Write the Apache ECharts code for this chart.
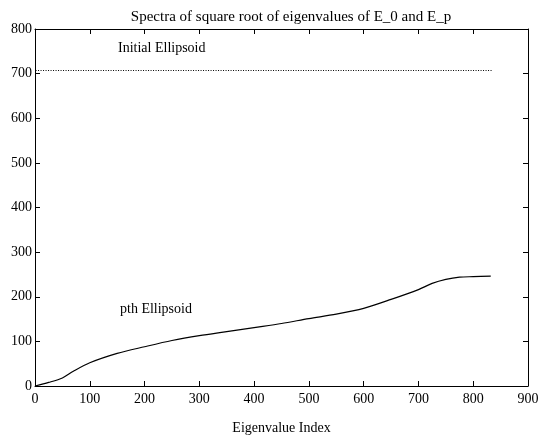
<!DOCTYPE html>
<html>
<head>
<meta charset="utf-8">
<script src="https://cdn.jsdelivr.net/npm/echarts@6/dist/echarts.min.js"></script>
<style>
  html, body { margin: 0; padding: 0; background: #fff; }
  #mychart { width: 539px; height: 436px; }
</style>
</head>
<body>
<div id="mychart"></div>
<script>
// pth ellipsoid spectrum
let pthIndex = [0, 25, 50, 70, 100, 150, 200, 250, 300, 350, 400, 450, 500, 550, 600, 650, 700, 725, 750, 775, 800, 832];
let pthValue = [0, 8, 18, 33, 52, 73, 88, 102, 113, 122, 131, 140, 151, 161, 174, 194, 216, 230, 239, 244, 245, 246];

// initial ellipsoid: flat line
let initIndex = [1, 834];
let initValue = [707, 707];

let xTicks = { min: 0, max: 900, interval: 100 };
let yTicks = { min: 0, max: 800, interval: 100 };

let font = 'Liberation Serif';
let ink = '#000';

function pairs(xs, ys) {
  return xs.map((x, i) => [x, ys[i]]);
}

let axisBase = {
  type: 'value',
  axisLine: { show: true, onZero: false, lineStyle: { color: ink, width: 1 } },
  axisTick: { show: true, inside: true, length: 5, lineStyle: { color: ink } },
  splitLine: { show: false },
  axisLabel: { color: ink, fontFamily: font, fontSize: 14 },
};

let option = {
  animation: false,
  backgroundColor: '#fff',
  title: {
    text: 'Spectra of square root of eigenvalues of E_0 and E_p',
    left: 286,
    top: 5,
    textAlign: 'center',
    textStyle: { color: ink, fontFamily: font, fontSize: 15, fontWeight: 'normal' },
  },
  grid: { left: 35, right: 11, top: 29, bottom: 50, containLabel: false, outerBoundsMode: 'none' },
  xAxis: [
    Object.assign({}, axisBase, {
      position: 'bottom',
      min: xTicks.min, max: xTicks.max, interval: xTicks.interval,
      name: 'Eigenvalue Index',
      nameLocation: 'middle',
      nameGap: 35,
      nameTextStyle: { color: ink, fontFamily: font, fontSize: 14 },
      axisLabel: { color: ink, fontFamily: font, fontSize: 14, margin: 6 },
    }),
    Object.assign({}, axisBase, {
      position: 'top',
      min: xTicks.min, max: xTicks.max, interval: xTicks.interval,
      axisLabel: { show: false },
    }),
  ],
  yAxis: [
    Object.assign({}, axisBase, {
      position: 'left',
      min: yTicks.min, max: yTicks.max, interval: yTicks.interval,
      axisLabel: { color: ink, fontFamily: font, fontSize: 14, margin: 3 },
    }),
    Object.assign({}, axisBase, {
      position: 'right',
      min: yTicks.min, max: yTicks.max, interval: yTicks.interval,
      axisLabel: { show: false },
    }),
  ],
  graphic: [
    {
      type: 'text', left: 118, top: 41,
      style: { text: 'Initial Ellipsoid', fill: ink, font: '14px "Liberation Serif"' },
    },
    {
      type: 'text', left: 120, top: 302,
      style: { text: 'pth Ellipsoid', fill: ink, font: '14px "Liberation Serif"' },
    },
  ],
  series: [
    {
      name: 'initial',
      type: 'line',
      showSymbol: false,
      data: pairs(initIndex, initValue),
      lineStyle: { color: ink, width: 1, type: [1, 1.5] },
    },
    {
      name: 'pth',
      type: 'line',
      showSymbol: false,
      smooth: 0.3,
      data: pairs(pthIndex, pthValue),
      lineStyle: { color: ink, width: 1.2 },
    },
  ],
};

let myChart = echarts.init(document.getElementById('mychart'));
myChart.setOption(option);
</script>
</body>
</html>
